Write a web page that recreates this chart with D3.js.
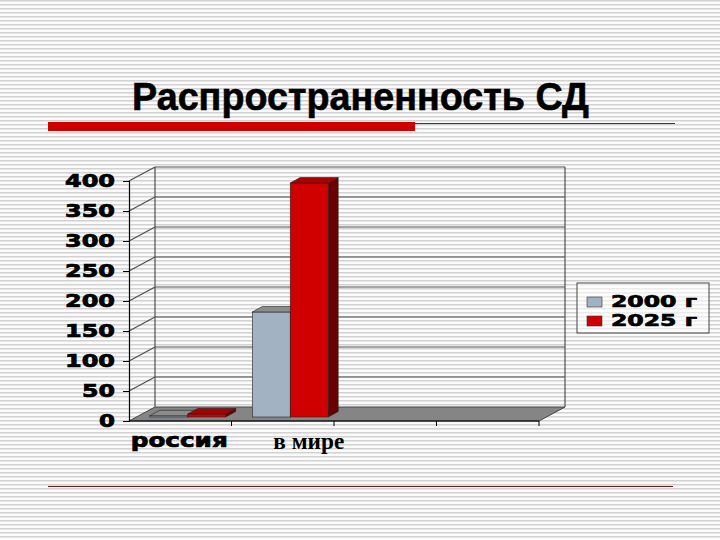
<!DOCTYPE html>
<html>
<head>
<meta charset="utf-8">
<script src="https://cdn.jsdelivr.net/npm/d3@7"></script>
<style>
  body { margin: 0; background: #fff; }
  svg { display: block; }
</style>
</head>
<body>
<script>
const categoryLabels = ['россия', 'в мире', '', ''],
    seriesNames = ['2000 г', '2025 г'],
    values2000 = [2, 175, null, null],
    values2025 = [5, 390, null, null],
    yTicks = [0, 50, 100, 150, 200, 250, 300, 350, 400],
    titleText = 'Распространенность СД';

const W = 720, H = 540,
    X0 = 129, X1 = 539, Y0 = 421, Y1 = 181,
    DX = 26, DY = -14,          // wall depth
    BX = 7.5, BY = -4,          // bar offset into the depth
    BDX = 10, BDY = -5.5;       // bar depth

const colors = {
    grey: '#a2b2c3', greyTop: '#8c8c8c', greySide: '#6f7b87',
    red: '#d00000', redTop: '#a80000', redSide: '#6a0000',
    grid: '#505050', floor: '#858585'
};
const seriesColors = [
    { front: colors.grey, top: colors.greyTop, side: colors.greySide },
    { front: colors.red, top: colors.redTop, side: colors.redSide }
];

// heavy "wide bold" look used by the chart labels
function heavy(sel, size, len) {
    sel.attr('font-family', '"DejaVu Sans", Verdana, sans-serif')
        .attr('font-weight', 'bold')
        .attr('font-size', size)
        .attr('fill', '#000')
        .attr('stroke', '#000')
        .attr('stroke-width', 0.7)
        .attr('textLength', len)
        .attr('lengthAdjust', 'spacingAndGlyphs');
}

const svg = d3.select('body').append('svg')
    .attr('width', W)
    .attr('height', H);

// striped slide background
const pat = svg.append('defs').append('pattern')
    .attr('id', 'stripes')
    .attr('width', 4)
    .attr('height', 4)
    .attr('patternUnits', 'userSpaceOnUse');
pat.append('rect').attr('width', 4).attr('height', 4).attr('fill', '#fbfbfb');
pat.append('rect').attr('y', 0).attr('width', 4).attr('height', 1).attr('fill', '#d2d2d2');
pat.append('rect').attr('y', 1).attr('width', 4).attr('height', 1).attr('fill', '#e6e6e6');

svg.append('rect')
    .attr('width', W)
    .attr('height', H)
    .attr('fill', 'url(#stripes)');

// title + rule
svg.append('text')
    .attr('x', 132)
    .attr('y', 110)
    .attr('font-family', '"Liberation Sans", Arial, sans-serif')
    .attr('font-weight', 'bold')
    .attr('font-size', 39)
    .attr('stroke', '#000')
    .attr('stroke-width', 0.6)
    .attr('textLength', 457)
    .attr('lengthAdjust', 'spacingAndGlyphs')
    .attr('fill', '#000')
    .text(titleText);

svg.append('line')
    .attr('x1', 415).attr('x2', 675)
    .attr('y1', 123.5).attr('y2', 123.5)
    .attr('stroke', '#7a1a1a')
    .attr('stroke-width', 1);

svg.append('rect')
    .attr('x', 48).attr('y', 122)
    .attr('width', 367).attr('height', 9)
    .attr('fill', '#cc0000');

svg.append('line')
    .attr('x1', 48).attr('x2', 673)
    .attr('y1', 486.5).attr('y2', 486.5)
    .attr('stroke', '#6b1a1a')
    .attr('stroke-width', 1);

// scales
const y = d3.scaleLinear().domain([0, 400]).range([Y0, Y1]);
const x = d3.scaleBand().domain(d3.range(categoryLabels.length)).range([X0, X1]);
const xs = d3.scaleBand().domain(seriesNames).range([0, x.bandwidth()])
    .paddingOuter(0.35).paddingInner(0);

const chart = svg.append('g');

// floor
chart.append('polygon')
    .attr('points', [[X0, Y0], [X1, Y0], [X1 + DX, Y0 + DY], [X0 + DX, Y0 + DY]].join(' '))
    .attr('fill', colors.floor)
    .attr('stroke', '#444')
    .attr('stroke-width', 1);

// gridlines on back and side walls
const grid = chart.append('g').attr('stroke', colors.grid).attr('stroke-width', 1.2).attr('fill', 'none');
grid.selectAll('.back')
    .data(yTicks.filter(t => t > 0))
    .join('line')
    .attr('class', 'back')
    .attr('x1', X0 + DX).attr('x2', X1 + DX)
    .attr('y1', d => y(d) + DY).attr('y2', d => y(d) + DY);
grid.selectAll('.side')
    .data(yTicks.filter(t => t > 0))
    .join('line')
    .attr('class', 'side')
    .attr('x1', X0).attr('x2', X0 + DX)
    .attr('y1', d => y(d)).attr('y2', d => y(d) + DY);
grid.selectAll('.vert')
    .data([X0 + DX, X1 + DX])
    .join('line')
    .attr('class', 'vert')
    .attr('x1', d => d).attr('x2', d => d)
    .attr('y1', y(400) + DY).attr('y2', y(0) + DY);

// bars
const barData = [];
categoryLabels.forEach((c, i) => {
    [values2000[i], values2025[i]].forEach((v, s) => {
        if (v != null) barData.push({ cat: i, series: s, value: v });
    });
});

const bars = chart.append('g').selectAll('g')
    .data(barData)
    .join('g');

bars.each(function (d) {
    const g = d3.select(this),
        c = seriesColors[d.series],
        bx = x(d.cat) + xs(seriesNames[d.series]) + BX,
        w = xs.bandwidth(),
        yb = y(0) + BY,
        yt = y(d.value) + BY;

    g.append('polygon')
        .attr('points', [[bx + w, yt], [bx + w + BDX, yt + BDY], [bx + w + BDX, yb + BDY], [bx + w, yb]].join(' '))
        .attr('fill', c.side)
        .attr('stroke', '#222')
        .attr('stroke-width', 0.6);
    g.append('rect')
        .attr('x', bx).attr('y', yt)
        .attr('width', w).attr('height', yb - yt)
        .attr('fill', c.front)
        .attr('stroke', '#222')
        .attr('stroke-width', 0.6);
    g.append('polygon')
        .attr('points', [[bx, yt], [bx + w, yt], [bx + w + BDX, yt + BDY], [bx + BDX, yt + BDY]].join(' '))
        .attr('fill', c.top)
        .attr('stroke', '#222')
        .attr('stroke-width', 0.6);
});

// y axis
const yAxis = chart.append('g')
    .attr('transform', `translate(${X0},0)`)
    .call(d3.axisLeft(y).tickValues(yTicks).tickSize(6).tickPadding(8));
yAxis.select('.domain').attr('stroke', '#000').attr('stroke-width', 1.2);
yAxis.selectAll('.tick line').attr('stroke', '#000');
yAxis.selectAll('.tick text')
    .call(heavy, 17, d => String(d).length * 17 - 1);

// category axis
chart.append('line')
    .attr('x1', X0).attr('x2', X1)
    .attr('y1', Y0).attr('y2', Y0)
    .attr('stroke', '#000');
chart.selectAll('.ctick')
    .data(d3.range(categoryLabels.length))
    .join('line')
    .attr('class', 'ctick')
    .attr('x1', d => x(d) + x.step()).attr('x2', d => x(d) + x.step())
    .attr('y1', Y0).attr('y2', Y0 + 5)
    .attr('stroke', '#000');

chart.append('text')
    .attr('x', x(0) + x.bandwidth() / 2 - 1)
    .attr('y', 447)
    .attr('text-anchor', 'middle')
    .call(heavy, 19, 97)
    .text(categoryLabels[0]);

chart.append('text')
    .attr('x', x(1) + x.bandwidth() / 2 + 26)
    .attr('y', 449)
    .attr('text-anchor', 'middle')
    .attr('font-family', '"Liberation Serif", "Times New Roman", serif')
    .attr('font-weight', 'bold')
    .attr('font-size', 23)
    .attr('textLength', 71)
    .attr('lengthAdjust', 'spacingAndGlyphs')
    .text(categoryLabels[1]);

// legend
const legend = svg.append('g').attr('transform', 'translate(577,283)');
legend.append('rect')
    .attr('width', 132).attr('height', 50)
    .attr('fill', '#fff').attr('fill-opacity', 0.55)
    .attr('stroke', '#444').attr('stroke-width', 1);
const items = legend.selectAll('.item')
    .data(seriesNames)
    .join('g')
    .attr('class', 'item')
    .attr('transform', (d, i) => `translate(0,${14 + i * 19})`);
items.append('rect')
    .attr('x', 10).attr('y', 0)
    .attr('width', 15).attr('height', 10)
    .attr('fill', (d, i) => seriesColors[i].front)
    .attr('stroke', '#333').attr('stroke-width', 0.6);
items.append('text')
    .attr('x', 34).attr('y', 10)
    .call(heavy, 16, 86)
    .text(d => d);
</script>
</body>
</html>
